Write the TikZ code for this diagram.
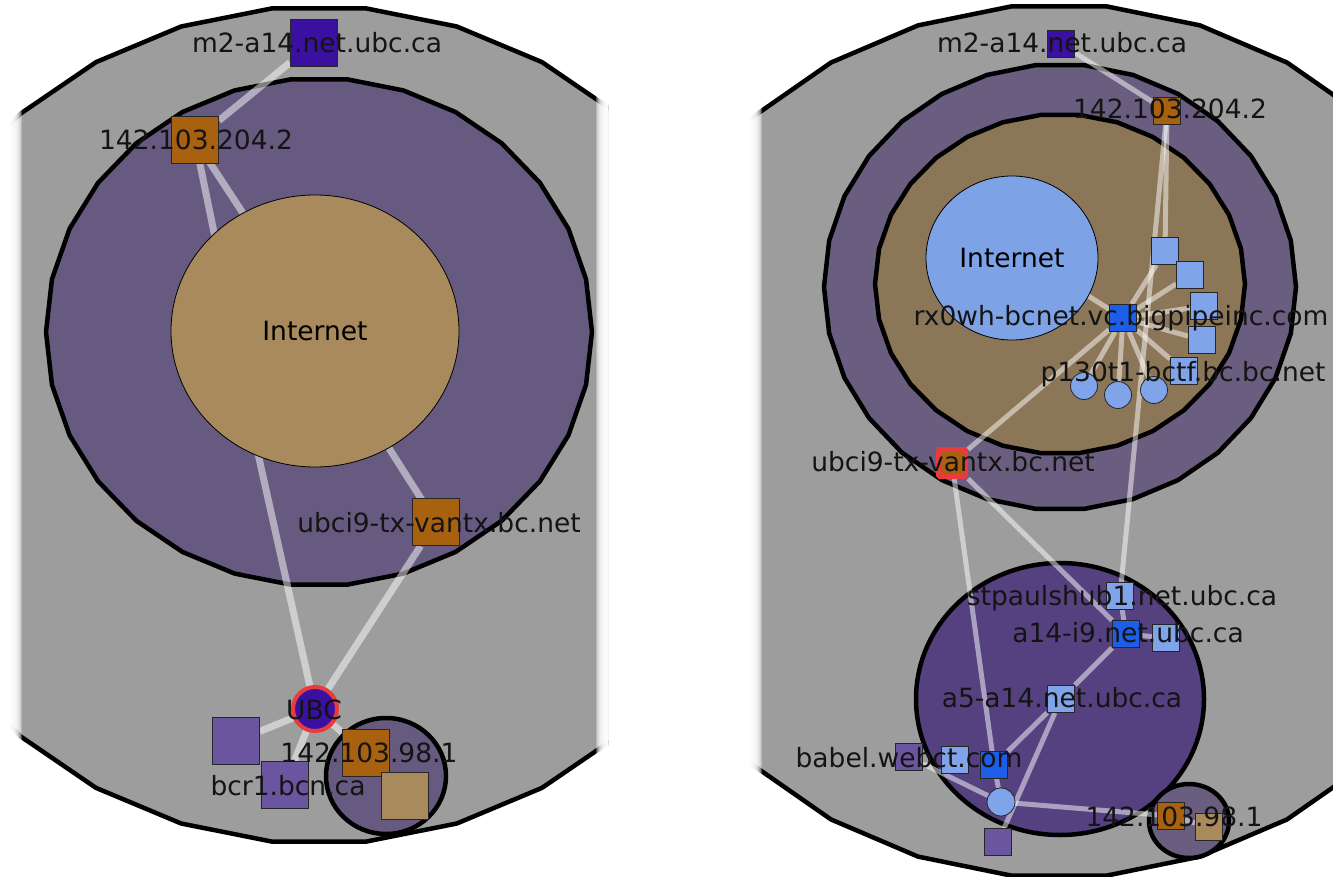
\documentclass[tikz,border=0pt]{standalone}
\usepackage{fontspec}
\setmainfont{DejaVu Sans}
\usetikzlibrary{shapes.geometric}

\definecolor{panelgray}{HTML}{9D9D9D}
\definecolor{ringlilac}{HTML}{665A80}
\definecolor{ringlilacR}{HTML}{6A5E80}
\definecolor{sand}{HTML}{A88A5C}
\definecolor{sandR}{HTML}{8C7658}
\definecolor{sky}{HTML}{7EA2E6}
\definecolor{deepviolet}{HTML}{55417F}
\definecolor{rust}{HTML}{A8620F}
\definecolor{indigo}{HTML}{3A10A0}
\definecolor{hubblue}{HTML}{1C5EE8}
\definecolor{paleblue}{HTML}{80A4EA}
\definecolor{lilac}{HTML}{6B55A0}
\definecolor{alertred}{HTML}{E83C3C}

\pgfdeclarelayer{back}
\pgfdeclarelayer{wires}
\pgfsetlayers{back,wires,main}

\begin{document}
\begin{tikzpicture}[x=1pt,y=-1pt,
  ring/.style={draw=black, line width=4.5pt, line join=round},
  cloud/.style={ellipse, draw=black, line width=0.8pt, inner sep=0pt,
    font=\fontsize{26.5}{30}\selectfont},
  link/.style={draw=white, draw opacity=0.5, line width=7pt},
  thinlink/.style={draw=white, draw opacity=0.5, line width=5pt},
  bigsq/.style={rectangle, draw=black!85, line width=0.8pt, minimum size=47pt, inner sep=0pt},
  smallsq/.style={bigsq, minimum size=27pt},
  dot/.style={circle, draw=black!85, line width=0.8pt, minimum size=27pt, inner sep=0pt, fill=paleblue},
  lbl/.style={anchor=base, inner sep=0pt, text=black!92, font=\fontsize{26.5}{30}\selectfont}
]
\useasboundingbox (0,0) rectangle (1333,877);

% ================= left panel =================
\begin{pgfonlayer}{back}
  \begin{scope}
    \clip (10,0) rectangle (608,877);
    \path[ring, fill=panelgray] plot[samples at={0,12,...,348}, variable=\t]
      ({319+446*cos(\t)},{425+419*sin(\t)}) -- cycle;
  \end{scope}
  \path[ring, fill=ringlilac] plot[samples at={0,12,...,348}, variable=\t]
    ({319+273*cos(\t)},{332+254*sin(\t)}) -- cycle;
  \path[ring, fill=ringlilac] (386,776) ellipse [x radius=60pt, y radius=58pt];
\end{pgfonlayer}

% hidden ends of links that run into the Internet cloud
\coordinate (inL1) at (232,320);
\coordinate (inL2) at (290,285);
\coordinate (inL3) at (246,400);
\coordinate (inL4) at (371,420);

\node[cloud, fill=sand, minimum width=288pt, minimum height=272pt] (inetL) at (315,331) {Internet};

\node[bigsq, fill=indigo] (m2L) at (314,43) {};
\node[bigsq, fill=rust] (r204L) at (195,140) {};
\node[bigsq, fill=rust] (ubci9L) at (436,522) {};
\node[circle, fill=indigo, draw=alertred, line width=4pt, minimum size=44pt, inner sep=0pt] (ubcL) at (315,709) {};
\node[bigsq, fill=lilac] (sqAL) at (236,741) {};
\node[bigsq, fill=lilac] (bcrL) at (285,785) {};
\node[bigsq, fill=rust] (r98L) at (366,753) {};
\node[bigsq, fill=sand] (tanL) at (405,796) {};

\begin{pgfonlayer}{wires}
  \draw[link] (m2L) -- (r204L);
  \draw[link] (r204L.center) -- (inL1);
  \draw[link] (r204L.center) -- (inL2);
  \draw[link] (ubcL.center) -- (inL3);
  \draw[link] (ubci9L.center) -- (inL4);
  \draw[link] (ubci9L) -- (ubcL);
  \draw[link] (ubcL) -- (sqAL);
  \draw[link] (ubcL) -- (bcrL);
  \draw[link] (ubcL) -- (r98L);
  \draw[link] (r98L) -- (tanL);
\end{pgfonlayer}

\node[lbl] (tm2L) at (317,53) {m2-a14.net.ubc.ca};
\node[lbl] (tr204L) at (196,150) {142.103.204.2};
\node[lbl] (tubci9L) at (439,532) {ubci9-tx-vantx.bc.net};
\node[lbl] (tubcL) at (314,719) {UBC};
\node[lbl] (tr98L) at (369,762) {142.103.98.1};
\node[lbl] (tbcrL) at (288,795) {bcr1.bcn.ca};

% ================= right panel =================
\begin{pgfonlayer}{back}
  \begin{scope}
    \clip (750,0) rectangle (1333,877);
    \path[ring, fill=panelgray] plot[samples at={0,12,...,348}, variable=\t]
      ({1059+456*cos(\t)},{441+437*sin(\t)}) -- cycle;
  \end{scope}
  \path[ring, fill=ringlilacR] plot[samples at={0,12,...,348}, variable=\t]
    ({1060+236*cos(\t)},{287+223*sin(\t)}) -- cycle;
  \path[ring, fill=sandR] plot[samples at={0,12,...,348}, variable=\t]
    ({1060+185*cos(\t)},{284+170*sin(\t)}) -- cycle;
  \path[ring, fill=deepviolet] (1060,699) ellipse [x radius=144pt, y radius=136pt];
  \path[ring, fill=ringlilacR] (1189,821) ellipse [x radius=40pt, y radius=37pt];
\end{pgfonlayer}

\coordinate (inR) at (1060,278);

\node[cloud, fill=sky, minimum width=172pt, minimum height=164pt] (inetR) at (1012,258) {Internet};

\node[smallsq, fill=indigo] (m2R) at (1061,44) {};
\node[smallsq, fill=rust] (r204R) at (1167,111) {};
\node[smallsq, fill=hubblue] (hubR) at (1123,318) {};
\node[smallsq, fill=paleblue] (sqa) at (1165,251) {};
\node[smallsq, fill=paleblue] (sqb) at (1190,275) {};
\node[smallsq, fill=paleblue] (sqc) at (1204,306) {};
\node[smallsq, fill=paleblue] (sqd) at (1202,340) {};
\node[smallsq, fill=paleblue] (p130) at (1184,371) {};
\node[dot] (c1) at (1084,386) {};
\node[dot] (c2) at (1118,395) {};
\node[dot] (c3) at (1154,390) {};
\node[smallsq, fill=rust, draw=alertred, line width=5pt, rounded corners=1.5pt] (ubci9R) at (952,463) {};
\node[smallsq, fill=paleblue] (stpR) at (1120,596) {};
\node[smallsq, fill=hubblue] (a14i9) at (1126,634) {};
\node[smallsq, fill=paleblue] (sqf) at (1166,638) {};
\node[smallsq, fill=paleblue] (a5) at (1061,699) {};
\node[smallsq, fill=lilac] (babelP) at (909,757) {};
\node[smallsq, fill=paleblue] (babelL) at (955,760) {};
\node[smallsq, fill=hubblue] (babelB) at (994,765) {};
\node[dot, minimum size=28pt] (dotR) at (1001,802) {};
\node[smallsq, fill=lilac] (botP) at (998,842) {};
\node[smallsq, fill=rust] (r98R) at (1171,816) {};
\node[smallsq, fill=sand] (tanR) at (1209,827) {};

\begin{pgfonlayer}{wires}
  \draw[thinlink] (m2R) -- (r204R);
  \draw[thinlink] (r204R) -- (sqa);
  \draw[thinlink] (r204R) -- (stpR);
  \draw[thinlink] (hubR.center) -- (inR);
  \foreach \n in {sqa,sqb,sqc,sqd,p130,c1,c2,c3}
    \draw[thinlink] (hubR) -- (\n);
  \draw[thinlink] (hubR) -- (ubci9R);
  \draw[thinlink] (ubci9R) -- (a14i9);
  \draw[thinlink] (ubci9R) -- (babelB);
  \draw[thinlink] (stpR) -- (a14i9);
  \draw[thinlink] (a14i9) -- (sqf);
  \draw[thinlink] (a14i9) -- (a5);
  \draw[thinlink] (a5) -- (babelB);
  \draw[thinlink] (a5) -- (botP);
  \draw[thinlink] (babelB) -- (dotR);
  \draw[thinlink] (babelP) -- (dotR);
  \draw[thinlink] (dotR) -- (r98R);
  \draw[thinlink] (r98R) -- (tanR);
\end{pgfonlayer}

\node[lbl] (tm2R) at (1062,53) {m2-a14.net.ubc.ca};
\node[lbl] (tr204R) at (1170,119) {142.103.204.2};
\node[lbl] (thubR) at (1121,326) {rx0wh-bcnet.vc.bigpipeinc.com};
\node[lbl] (tp130) at (1183,381) {p130t1-bctf.bc.bc.net};
\node[lbl] (tubci9R) at (953,471) {ubci9-tx-vantx.bc.net};
\node[lbl] (tstpR) at (1122,605) {stpaulshub1.net.ubc.ca};
\node[lbl] (ta14i9) at (1128,642) {a14-i9.net.ubc.ca};
\node[lbl] (ta5) at (1062,707) {a5-a14.net.ubc.ca};
\node[lbl] (tbabel) at (909,767) {babel.webct.com};
\node[lbl] (tr98R) at (1174,826) {142.103.98.1};

% soft vertical borders of both panels
\foreach \i in {1,...,12} {
  \fill[white, opacity=0.3] (10,0) rectangle ({10+\i},877);
  \fill[white, opacity=0.3] ({608-\i},0) rectangle (608,877);
  \fill[white, opacity=0.3] (750,0) rectangle ({750+\i},877);
}
\end{tikzpicture}
\end{document}
